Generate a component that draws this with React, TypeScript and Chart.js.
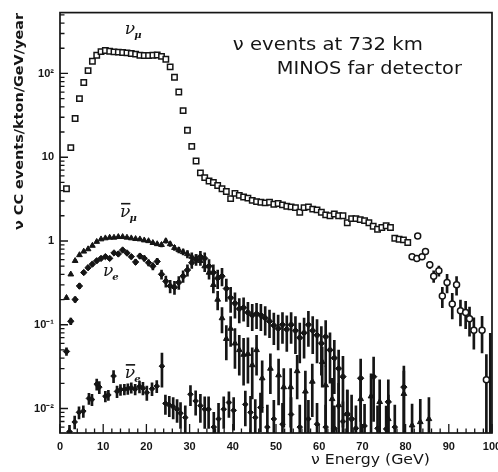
import React, { useEffect, useRef } from "react";
import { Chart, registerables } from "chart.js";
Chart.register(...registerables);

const INK = "#151515";
const Y_MIN = 0.0051;
const Y_MAX = 533;
const ERR_FLOOR = 0.004;

// axis ticks
const xTickValues = [0, 10, 20, 30, 40, 50, 60, 70, 80, 90, 100];
const xInnerTicks = [0, 2, 4, 6, 8, 10, 12, 14, 16, 18, 20, 22, 24, 26, 28, 30, 32, 34, 36, 38, 40, 42, 44, 46, 48, 50, 52, 54, 56, 58, 60, 62, 64, 66, 68, 70, 72, 74, 76, 78, 80, 82, 84, 86, 88, 90, 92, 94, 96, 98, 100];
const yTickValues = [0.01, 0.1, 1, 10, 100];
const yTickLabels = ["10\u207B\u00B2", "10\u207B\u00B9", "1", "10", "10\u00B2"];

// nu_mu (open squares)
const nuMuSqE = [1.5, 2.5, 3.5, 4.5, 5.5, 6.5, 7.5, 8.5, 9.5, 10.5, 11.5, 12.5, 13.5, 14.5, 15.5, 16.5, 17.5, 18.5, 19.5, 20.5, 21.5, 22.5, 23.5, 24.5, 25.5, 26.5, 27.5, 28.5, 29.5, 30.5, 31.5, 32.5, 33.5, 34.5, 35.5, 36.5, 37.5, 38.5, 39.5, 40.5, 41.5, 42.5, 43.5, 44.5, 45.5, 46.5, 47.5, 48.5, 49.5, 50.5, 51.5, 52.5, 53.5, 54.5, 55.5, 56.5, 57.5, 58.5, 59.5, 60.5, 61.5, 62.5, 63.5, 64.5, 65.5, 66.5, 67.5, 68.5, 69.5, 70.5, 71.5, 72.5, 73.5, 74.5, 75.5, 76.5, 77.5, 78.5, 79.5, 80.5];
const nuMuSq = [4.2, 13, 29, 50, 78, 108, 140, 165, 182, 188, 184, 181, 180, 178, 176, 173, 170, 165, 164, 164, 165, 166, 160, 148, 120, 90, 60, 36, 21, 13.5, 9.0, 6.5, 5.7, 5.2, 5.0, 4.6, 4.2, 3.9, 3.2, 3.7, 3.5, 3.35, 3.25, 3.05, 2.95, 2.9, 2.85, 2.9, 2.75, 2.8, 2.7, 2.6, 2.55, 2.5, 2.2, 2.5, 2.55, 2.4, 2.35, 2.2, 2.05, 2.0, 2.1, 2.0, 2.0, 1.65, 1.85, 1.85, 1.8, 1.75, 1.65, 1.5, 1.38, 1.45, 1.52, 1.45, 1.08, 1.05, 1.03, 0.96];

// nu_mu high-energy tail (open circles)
const nuMuCircE = [81.5, 82.6, 82.8, 83.8, 84.6, 85.6, 86.5, 87.7, 88.5, 89.6, 90.8, 91.8, 92.7, 93.9, 94.8, 95.8, 97.7, 98.7, 99.6];
const nuMuCirc = [0.65, 0.62, 1.15, 0.65, 0.75, 0.52, 0.38, 0.44, 0.22, 0.32, 0.177, 0.30, 0.147, 0.14, 0.118, 0.086, 0.086, 0.022, 0.004];
const nuMuCircErr = [0.03, 0.03, 0.03, 0.04, 0.04, 0.05, 0.06, 0.06, 0.06, 0.08, 0.06, 0.075, 0.05, 0.05, 0.045, 0.035, 0.04, 0.022, 0.075];

// anti nu_mu (filled triangles)
const antiNuMuE = [1.5, 2.5, 3.5, 4.5, 5.5, 6.5, 7.5, 8.5, 9.5, 10.5, 11.5, 12.5, 13.5, 14.5, 15.5, 16.5, 17.5, 18.5, 19.5, 20.5, 21.5, 22.5, 23.5, 24.5, 25.5, 26.5, 27.5, 28.5, 29.5, 30.5, 31.5, 32.5, 33.5, 34.5, 35.5, 36.5, 37.5, 38.5, 39.5, 40.5, 41.5, 42.5, 43.5, 44.5, 45.5, 46.8, 48.7, 50.6, 51.8, 53.4, 54.9, 56.8, 58.4, 60.7, 61.5, 63.0, 64.5, 66.5, 69.6, 72.0, 74.0, 76.0, 79.6, 81.5, 83.4, 85.4];
const antiNuMu = [0.21, 0.4, 0.58, 0.68, 0.75, 0.8, 0.88, 0.98, 1.05, 1.08, 1.1, 1.1, 1.12, 1.12, 1.1, 1.08, 1.06, 1.05, 1.02, 1.0, 0.95, 0.92, 0.9, 1.0, 0.92, 0.83, 0.78, 0.74, 0.7, 0.65, 0.62, 0.58, 0.5, 0.42, 0.3, 0.2, 0.12, 0.068, 0.09, 0.06, 0.05, 0.044, 0.045, 0.033, 0.05, 0.023, 0.03, 0.025, 0.018, 0.018, 0.028, 0.016, 0.021, 0.036, 0.019, 0.013, 0.011, 0.0086, 0.013, 0.014, 0.012, 0.0075, 0.015, 0.0063, 0.0069, 0.0075];
const antiNuMuErr = [0.01, 0.015, 0.02, 0.02, 0.02, 0.02, 0.02, 0.025, 0.025, 0.025, 0.03, 0.03, 0.03, 0.03, 0.03, 0.03, 0.03, 0.035, 0.035, 0.035, 0.04, 0.04, 0.05, 0.06, 0.06, 0.06, 0.06, 0.06, 0.07, 0.07, 0.07, 0.07, 0.07, 0.07, 0.06, 0.05, 0.04, 0.03, 0.035, 0.03, 0.025, 0.025, 0.025, 0.02, 0.025, 0.014, 0.015, 0.014, 0.012, 0.012, 0.015, 0.012, 0.013, 0.018, 0.013, 0.01, 0.009, 0.008, 0.01, 0.012, 0.01, 0.007, 0.013, 0.005, 0.006, 0.006];

// nu_e (filled diamonds)
const nuEE = [1.5, 2.5, 3.5, 4.5, 5.5, 6.5, 7.5, 8.5, 9.5, 10.5, 11.5, 12.5, 13.5, 14.5, 15.5, 16.5, 17.5, 18.5, 19.5, 20.5, 21.5, 22.5, 23.5, 24.5, 25.5, 26.5, 27.5, 28.5, 29.5, 30.5, 31.5, 32.5, 33.5, 34.5, 35.5, 36.5, 37.5, 38.5, 39.5, 40.5, 41.5, 42.5, 43.5, 44.5, 45.5, 46.5, 47.5, 48.5, 49.5, 50.5, 51.5, 52.5, 53.5, 54.5, 55.5, 56.5, 57.5, 58.5, 59.5, 60.5, 61.5, 62.5, 63.5, 64.5, 65.5, 66.5, 67.5, 69.6, 72.6, 76.0, 79.6];
const nuE = [0.048, 0.11, 0.2, 0.29, 0.42, 0.48, 0.53, 0.58, 0.62, 0.65, 0.62, 0.72, 0.7, 0.78, 0.72, 0.65, 0.56, 0.66, 0.62, 0.55, 0.5, 0.57, 0.4, 0.33, 0.29, 0.28, 0.32, 0.38, 0.45, 0.55, 0.6, 0.65, 0.62, 0.5, 0.42, 0.36, 0.38, 0.27, 0.21, 0.18, 0.155, 0.16, 0.14, 0.13, 0.135, 0.13, 0.12, 0.11, 0.098, 0.09, 0.1, 0.088, 0.1, 0.085, 0.07, 0.08, 0.1, 0.085, 0.075, 0.06, 0.072, 0.05, 0.04, 0.03, 0.024, 0.0086, 0.0075, 0.023, 0.024, 0.012, 0.018];
const nuEErr = [0.005, 0.01, 0.015, 0.02, 0.025, 0.025, 0.03, 0.03, 0.03, 0.03, 0.03, 0.035, 0.035, 0.04, 0.04, 0.04, 0.04, 0.045, 0.045, 0.045, 0.05, 0.05, 0.05, 0.05, 0.05, 0.05, 0.055, 0.06, 0.07, 0.08, 0.09, 0.1, 0.1, 0.1, 0.1, 0.09, 0.09, 0.08, 0.07, 0.06, 0.05, 0.05, 0.045, 0.045, 0.045, 0.045, 0.045, 0.04, 0.04, 0.04, 0.04, 0.04, 0.04, 0.04, 0.035, 0.04, 0.045, 0.04, 0.04, 0.035, 0.04, 0.03, 0.025, 0.02, 0.018, 0.008, 0.007, 0.016, 0.017, 0.01, 0.014];

// anti nu_e (small diamonds)
const antiNuEE = [2.2, 3.4, 4.4, 5.4, 6.7, 7.4, 8.5, 9.1, 10.5, 11.2, 12.4, 13.2, 14.0, 14.9, 15.7, 16.5, 17.4, 18.4, 19.2, 20.1, 21.3, 22.4, 23.6, 24.4, 25.3, 26.2, 27.1, 27.9, 29.0, 30.2, 31.4, 32.5, 33.5, 34.4, 35.6, 36.7, 37.9, 39.1, 40.2, 42.9, 44.1, 45.2, 46.4, 48.0, 49.5, 51.5, 53.5, 55.5, 57.5, 59.5, 61.5, 63.5, 65.5, 68.5, 70.5, 73.5, 75.5, 77.5];
const antiNuE = [0.0053, 0.0069, 0.009, 0.0093, 0.0132, 0.0128, 0.0195, 0.018, 0.014, 0.0145, 0.0244, 0.016, 0.0168, 0.017, 0.0172, 0.0177, 0.017, 0.0183, 0.0175, 0.0155, 0.0172, 0.0185, 0.032, 0.0115, 0.011, 0.0105, 0.0098, 0.0088, 0.0078, 0.0148, 0.0123, 0.0108, 0.0098, 0.0098, 0.006, 0.0075, 0.0098, 0.0118, 0.0095, 0.0112, 0.009, 0.0078, 0.0103, 0.006, 0.0075, 0.0065, 0.0085, 0.006, 0.0075, 0.0065, 0.006, 0.0058, 0.007, 0.0058, 0.0062, 0.0058, 0.0057, 0.006];
const antiNuEErr = [0.001, 0.0012, 0.0015, 0.0015, 0.002, 0.002, 0.003, 0.003, 0.002, 0.002, 0.004, 0.0025, 0.0025, 0.0025, 0.0025, 0.0025, 0.0025, 0.003, 0.003, 0.003, 0.003, 0.003, 0.014, 0.003, 0.003, 0.003, 0.003, 0.003, 0.003, 0.004, 0.004, 0.004, 0.004, 0.004, 0.003, 0.004, 0.004, 0.004, 0.004, 0.005, 0.005, 0.005, 0.005, 0.005, 0.005, 0.005, 0.005, 0.005, 0.005, 0.005, 0.005, 0.005, 0.005, 0.005, 0.005, 0.005, 0.005, 0.005];

// annotation anchors (data coordinates: GeV, value)
const labelNuMu = { x: 15.0, y: 294 };
const labelAntiNuMu = { x: 13.9, y: 1.94 };
const labelNuE = { x: 9.95, y: 0.383 };
const labelAntiNuE = { x: 15.0, y: 0.0231 };
const title1 = { text: "\u03BD events at 732 km", x: 40.0, y: 190 };
const title2 = { text: "MINOS far detector", x: 50.2, y: 97.3 };
const xTitle = "\u03BD Energy (GeV)";
const yTitle = "\u03BD CC events/kton/GeV/year";

function pts(E: number[], v: number[]) {
  return E.map((x, i) => ({ x, y: v[i] }));
}
function bars(E: number[], v: number[], s: number[]) {
  return E.map((x, i) => ({ x, y: [Math.max(v[i] - s[i], ERR_FLOOR), v[i] + s[i]] }));
}

function fitText(ctx: CanvasRenderingContext2D, text: string, x: number, y: number, font: string, width: number) {
  ctx.font = font;
  const w = ctx.measureText(text).width;
  ctx.save();
  ctx.translate(x, y);
  ctx.scale(width / w, 1);
  ctx.textAlign = "left";
  ctx.textBaseline = "alphabetic";
  ctx.fillText(text, 0, 0);
  ctx.restore();
}

function nuLabel(ctx: CanvasRenderingContext2D, x: number, y: number, sub: string, bar: boolean) {
  ctx.textAlign = "left";
  ctx.textBaseline = "alphabetic";
  ctx.font = 'italic 17px "DejaVu Serif"';
  ctx.fillText("\u03BD", x, y);
  const w = ctx.measureText("\u03BD").width;
  ctx.font = 'italic bold 10px "DejaVu Serif"';
  ctx.fillText(sub, x + w - 1, y + 4);
  if (bar) ctx.fillRect(x + 1, y - 14, w - 1, 1.6);
}

const decorPlugin = {
  id: "decor",
  afterDatasetsDraw(chart: any) {
    const { ctx, chartArea: a, scales } = chart;
    const xs = scales.x;
    const ys = scales.y;
    ctx.save();
    ctx.strokeStyle = INK;
    ctx.fillStyle = INK;
    // frame
    ctx.lineWidth = 1.7;
    ctx.strokeRect(a.left, a.top, a.right - a.left, a.bottom - a.top);
    // inner ticks
    ctx.lineWidth = 1.3;
    ctx.beginPath();
    for (const v of xInnerTicks) {
      const px = xs.getPixelForValue(v);
      const len = v % 10 === 0 ? 9 : 4.5;
      ctx.moveTo(px, a.bottom);
      ctx.lineTo(px, a.bottom - len);
    }
    for (let e = -3; e <= 2; e++) {
      for (let m = 1; m <= 9; m++) {
        const v = m * Math.pow(10, e);
        if (v < Y_MIN || v > Y_MAX) continue;
        const py = ys.getPixelForValue(v);
        const len = m === 1 ? 8 : 4.5;
        ctx.moveTo(a.left, py);
        ctx.lineTo(a.left + len, py);
      }
    }
    ctx.stroke();

    // curve labels
    const P = (o: { x: number; y: number }) => [xs.getPixelForValue(o.x), ys.getPixelForValue(o.y)];
    let p = P(labelNuMu);
    nuLabel(ctx, p[0], p[1], "\u03BC", false);
    p = P(labelAntiNuMu);
    nuLabel(ctx, p[0], p[1], "\u03BC", true);
    p = P(labelNuE);
    nuLabel(ctx, p[0], p[1], "e", false);
    p = P(labelAntiNuE);
    nuLabel(ctx, p[0], p[1], "e", true);

    // titles
    p = P(title1);
    fitText(ctx, title1.text, p[0], p[1], '17px "DejaVu Sans"', 190);
    p = P(title2);
    fitText(ctx, title2.text, p[0], p[1], '17px "DejaVu Sans"', 185);

    // axis titles
    fitText(ctx, xTitle, 311, 464, '14px "DejaVu Sans"', 119);
    ctx.save();
    ctx.translate(23, 230);
    ctx.rotate(-Math.PI / 2);
    fitText(ctx, yTitle, 0, 0, 'bold 13px "DejaVu Sans"', 217);
    ctx.restore();
    ctx.restore();
  },
};

export default function App() {
  const ref = useRef<HTMLCanvasElement>(null);
  useEffect(() => {
    if (!ref.current) return;
    const barDs = (data: any[]) => ({
      type: "bar" as const,
      data,
      backgroundColor: INK,
      borderWidth: 0,
      barThickness: 2,
      grouped: false,
      order: 5,
    });
    const chart = new Chart(ref.current, {
      type: "scatter",
      data: {
        datasets: [
          barDs(bars(nuMuCircE, nuMuCirc, nuMuCircErr)),
          barDs(bars(antiNuMuE, antiNuMu, antiNuMuErr)),
          barDs(bars(nuEE, nuE, nuEErr)),
          barDs(bars(antiNuEE, antiNuE, antiNuEErr)),
          {
            type: "scatter",
            label: "nu_mu",
            data: pts(nuMuSqE, nuMuSq),
            pointStyle: "rect",
            pointRadius: 3.8,
            pointBorderWidth: 1.5,
            pointBackgroundColor: "#ffffff",
            pointBorderColor: INK,
            order: 1,
          },
          {
            type: "scatter",
            label: "nu_mu tail",
            data: pts(nuMuCircE, nuMuCirc),
            pointStyle: "circle",
            pointRadius: 3,
            pointBorderWidth: 1.5,
            pointBackgroundColor: "#ffffff",
            pointBorderColor: INK,
            order: 1,
          },
          {
            type: "scatter",
            label: "anti nu_mu",
            data: pts(antiNuMuE, antiNuMu),
            pointStyle: "triangle",
            pointRadius: 3.3,
            pointBorderWidth: 1,
            pointBackgroundColor: INK,
            pointBorderColor: INK,
            order: 1,
          },
          {
            type: "scatter",
            label: "nu_e",
            data: pts(nuEE, nuE),
            pointStyle: "rectRot",
            pointRadius: 3.2,
            pointBorderWidth: 1,
            pointBackgroundColor: INK,
            pointBorderColor: INK,
            order: 1,
          },
          {
            type: "scatter",
            label: "anti nu_e",
            data: pts(antiNuEE, antiNuE),
            pointStyle: "rectRot",
            pointRadius: 2.8,
            pointBorderWidth: 1,
            pointBackgroundColor: INK,
            pointBorderColor: INK,
            order: 1,
          },
        ] as any,
      },
      options: {
        animation: false,
        responsive: false,
        events: [],
        layout: { padding: { top: 5, right: 18, left: 0, bottom: 0 } },
        plugins: { legend: { display: false }, tooltip: { enabled: false } },
        scales: {
          x: {
            type: "linear",
            min: 0,
            max: 100,
            offset: false,
            grid: { display: false, drawTicks: false },
            border: { display: false },
            afterBuildTicks: (s: any) => {
              s.ticks = xTickValues.map((v) => ({ value: v }));
            },
            ticks: {
              autoSkip: false,
              maxRotation: 0,
              padding: 7,
              color: INK,
              font: { family: "Liberation Sans", size: 11, weight: "bold" },
            },
            afterFit: (s: any) => {
              s.height = 39;
            },
          },
          y: {
            type: "logarithmic",
            min: Y_MIN,
            max: Y_MAX,
            grid: { display: false, drawTicks: false },
            border: { display: false },
            afterBuildTicks: (s: any) => {
              s.ticks = yTickValues.map((v) => ({ value: v }));
            },
            ticks: {
              autoSkip: false,
              padding: 6,
              color: INK,
              font: { family: "Liberation Sans", size: 11, weight: "bold" },
              callback: (val: any) => {
                const i = yTickValues.findIndex((t) => Math.abs(Math.log10(t) - Math.log10(Number(val))) < 1e-6);
                return i >= 0 ? yTickLabels[i] : "";
              },
            },
            afterFit: (s: any) => {
              s.width = 60;
            },
          },
        },
      } as any,
      plugins: [decorPlugin],
    });
    return () => chart.destroy();
  }, []);
  return (
    <div style={{ position: "fixed", left: 0, top: 0, width: 498, height: 472, overflow: "hidden", background: "#ffffff" }}>
      <canvas ref={ref} width={510} height={472} style={{ width: 510, height: 472, display: "block" }} />
    </div>
  );
}
